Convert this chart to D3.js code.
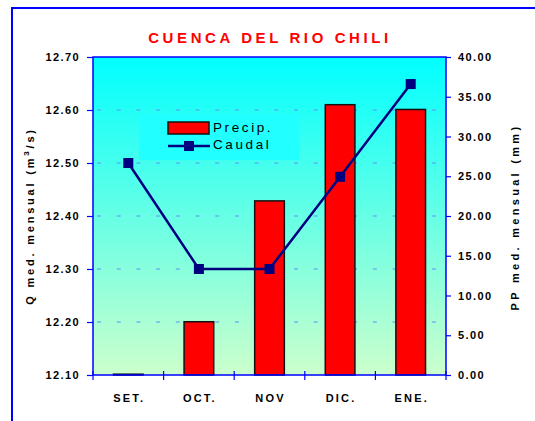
<!DOCTYPE html>
<html>
<head>
<meta charset="utf-8">
<script src="https://cdn.jsdelivr.net/npm/d3@7"></script>
<style>
  html, body { margin: 0; padding: 0; background: #fff; }
  svg { display: block; font-family: Arial, "Liberation Sans", sans-serif; }
</style>
</head>
<body>
<svg id="chart" width="535" height="421"></svg>
<script>
// Monthly data, Chili river basin
const months = ["SET.", "OCT.", "NOV", "DIC.", "ENE."];
const precip = [0.1, 6.7, 21.9, 34.0, 33.4];          // mm
const caudal = [12.50, 12.30, 12.30, 12.474, 12.649];  // m3/s
const leftTicks = [12.10, 12.20, 12.30, 12.40, 12.50, 12.60, 12.70];
const rightTicks = [0, 5, 10, 15, 20, 25, 30, 35, 40];

const svg = d3.select("#chart");
const m = { left: 93, right: 446, top: 57, bottom: 375 };

const x = d3.scaleBand().domain(months).range([m.left, m.right]);
const yQ = d3.scaleLinear().domain([12.10, 12.70]).range([m.bottom, m.top]);
const yP = d3.scaleLinear().domain([0, 40]).range([m.bottom, m.top]);

// outer frame
svg.append("rect")
  .attr("x", 12).attr("y", 8).attr("width", 540).attr("height", 430)
  .attr("fill", "none").attr("stroke", "#0000ff").attr("stroke-width", 2);

// plot background gradient
const defs = svg.append("defs");
const grad = defs.append("linearGradient").attr("id", "bg")
  .attr("x1", 0).attr("y1", 0).attr("x2", 0).attr("y2", 1);
grad.append("stop").attr("offset", "0%").attr("stop-color", "#00ffff");
grad.append("stop").attr("offset", "100%").attr("stop-color", "#ccffcc");

svg.append("rect")
  .attr("x", m.left).attr("y", m.top)
  .attr("width", m.right - m.left).attr("height", m.bottom - m.top)
  .attr("fill", "url(#bg)");

// dashed grid lines
svg.append("g").selectAll("line")
  .data(leftTicks.slice(1, -1))
  .join("line")
  .attr("x1", m.left + 4).attr("x2", m.right)
  .attr("y1", d => yQ(d)).attr("y2", d => yQ(d))
  .attr("stroke", "#5f8ff5").attr("stroke-width", 1.2)
  .attr("stroke-dasharray", "4,15.7");

// title
svg.append("text")
  .attr("x", 270).attr("y", 43)
  .attr("text-anchor", "middle")
  .attr("fill", "#ff0000").attr("font-weight", "bold")
  .attr("font-size", 15).attr("letter-spacing", 3.6)
  .text("CUENCA DEL RIO CHILI");

// bars
svg.append("g").selectAll("rect")
  .data(months.map((d, i) => ({ m: d, v: precip[i] })))
  .join("rect")
  .attr("x", d => x(d.m) + x.bandwidth() * 0.29)
  .attr("width", x.bandwidth() * 0.42)
  .attr("y", d => yP(d.v))
  .attr("height", d => yP(0) - yP(d.v))
  .attr("fill", "#ff0000").attr("stroke", "#111").attr("stroke-width", 1.5);

// plot border / axes lines
const axisCol = "#0000ff";
svg.append("rect")
  .attr("x", m.left).attr("y", m.top)
  .attr("width", m.right - m.left).attr("height", m.bottom - m.top)
  .attr("fill", "none").attr("stroke", axisCol).attr("stroke-width", 1.5);

function styleAxis(g) {
  g.select(".domain").remove();
  g.selectAll(".tick line").attr("stroke", axisCol).attr("stroke-width", 1.2);
  g.selectAll(".tick text")
    .attr("fill", "#000").attr("font-weight", "bold")
    .attr("font-size", 11).attr("letter-spacing", 1.4)
    .attr("font-family", "Arial, 'Liberation Sans', sans-serif");
}

svg.append("g").attr("transform", `translate(${m.left},0)`)
  .call(d3.axisLeft(yQ).tickValues(leftTicks).tickFormat(d3.format(".2f")).tickSize(6).tickPadding(7))
  .call(styleAxis);

svg.append("g").attr("transform", `translate(${m.right},0)`)
  .call(d3.axisRight(yP).tickValues(rightTicks).tickFormat(d3.format(".2f")).tickSize(5).tickPadding(7))
  .call(styleAxis);

// x axis ticks at band boundaries
const bounds = months.map(d => x(d)).concat([m.right]);
svg.append("g").selectAll("line")
  .data(bounds)
  .join("line")
  .attr("x1", d => d).attr("x2", d => d)
  .attr("y1", m.bottom - 4).attr("y2", m.bottom + 5)
  .attr("stroke", axisCol).attr("stroke-width", 1.2);

svg.append("g").selectAll("text")
  .data(months)
  .join("text")
  .attr("x", d => x(d) + x.bandwidth() / 2 + 1)
  .attr("y", 402)
  .attr("text-anchor", "middle")
  .attr("font-weight", "bold").attr("font-size", 11).attr("letter-spacing", 2.2)
  .text(d => d);

// caudal line
const line = d3.line().x((d, i) => x(months[i]) + x.bandwidth() / 2).y(d => yQ(d));
svg.append("path").datum(caudal)
  .attr("d", line).attr("fill", "none")
  .attr("stroke", "#000080").attr("stroke-width", 2.5);
svg.append("g").selectAll("rect")
  .data(caudal)
  .join("rect")
  .attr("x", (d, i) => x(months[i]) + x.bandwidth() / 2 - 5)
  .attr("y", d => yQ(d) - 5)
  .attr("width", 10).attr("height", 10)
  .attr("fill", "#000080");

// legend
const lg = svg.append("g");
lg.append("rect").attr("x", 139).attr("y", 114).attr("width", 160).attr("height", 46)
  .attr("fill", "#22ffff");
lg.append("rect").attr("x", 168).attr("y", 122).attr("width", 41).attr("height", 12)
  .attr("fill", "#ff0000").attr("stroke", "#111").attr("stroke-width", 1.5);
lg.append("line").attr("x1", 168).attr("x2", 210).attr("y1", 146).attr("y2", 146)
  .attr("stroke", "#000080").attr("stroke-width", 2.5);
lg.append("rect").attr("x", 184).attr("y", 141).attr("width", 10).attr("height", 10)
  .attr("fill", "#000080");
lg.append("text").attr("x", 213).attr("y", 132).attr("font-size", 13.5).attr("letter-spacing", 2.6)
  .text("Precip.");
lg.append("text").attr("x", 213).attr("y", 149).attr("font-size", 13.5).attr("letter-spacing", 2.6)
  .text("Caudal");

// axis titles
const leftTitle = svg.append("text")
  .attr("transform", "translate(34,216) rotate(-90)")
  .attr("text-anchor", "middle")
  .attr("font-weight", "bold").attr("font-size", 11).attr("letter-spacing", 2.8);
leftTitle.append("tspan").text("Q med. mensual (m");
leftTitle.append("tspan").attr("dy", -5).attr("font-size", 8).text("3");
leftTitle.append("tspan").attr("dy", 5).text("/s)");

svg.append("text")
  .attr("transform", "translate(519,217) rotate(-90)")
  .attr("text-anchor", "middle")
  .attr("font-weight", "bold").attr("font-size", 11).attr("letter-spacing", 3.3)
  .text("PP med. mensual (mm)");
</script>
</body>
</html>
